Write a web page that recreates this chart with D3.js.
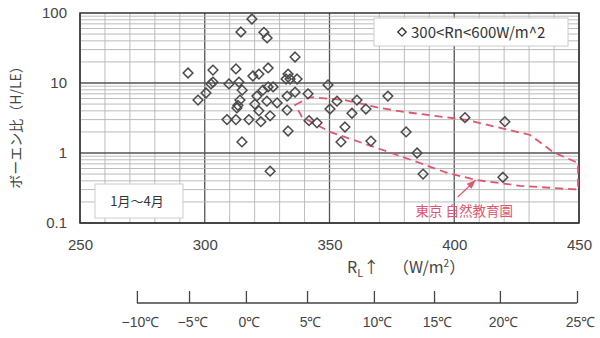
<!DOCTYPE html>
<html>
<head>
<meta charset="utf-8">
<script src="https://cdn.jsdelivr.net/npm/d3@7"></script>
<style>
  body { margin: 0; background: #fff; }
  svg { font-family: "Noto Sans CJK JP", "Noto Sans", sans-serif; }
  .ticks text { fill: #444; font-size: 15px; }
  .temp text { fill: #444; font-size: 14px; }
</style>
</head>
<body>
<script>
// meetpunten: RL (W/m2) en Bowen-verhouding
var rl = [293.3, 297.3, 300.5, 303.3, 302.5, 303.3, 309.7, 312.5, 313.7, 314.5,
          318.9, 323.7, 325.0, 325.4, 319.3, 321.7, 333.4, 334.2, 337.0, 336.2,
          349.4, 315.0, 323.3, 325.4, 327.4, 336.2, 341.4, 373.4, 353.0, 361.0,
          364.6, 350.2, 359.0, 314.1, 320.9, 324.9, 329.0, 333.0, 333.0, 312.9,
          320.1, 321.7, 326.2, 308.9, 312.5, 317.7, 322.5, 333.4, 314.9, 326.2,
          341.8, 345.0, 356.2, 354.6, 366.6, 404.3, 420.3, 380.7, 385.1, 387.5,
          419.5, 332.6, 313.3];
var bowen = [13.9, 5.7, 7.2, 15.3, 9.7, 10.3, 9.7, 15.9, 10.3, 53.5,
             82, 53, 44, 16.4, 12.6, 13.4, 13.4, 11.4, 11.4, 23.5,
             9.4, 7.9, 7.9, 8.8, 8.8, 7.4, 7.0, 6.5, 5.5, 5.7,
             4.25, 4.25, 3.7, 5.7, 6.5, 5.5, 5.2, 6.5, 4.1, 4.4,
             5.0, 4.0, 3.4, 3.0, 3.0, 3.0, 2.8, 2.06, 1.44, 0.55,
             2.9, 2.7, 2.35, 1.44, 1.48, 3.2, 2.8, 2.0, 1.0, 0.5,
             0.45, 11.4, 4.8];

// omtrek van het gebied "東京 自然教育園"
var regionRL = [336.2, 342.2, 356.2, 370.2, 380.3, 405.1, 430.4, 439.6, 449.6, 449.6,
                426.4, 409.1, 397.1, 386.3, 370.2, 350.2, 339.0];
var regionBowen = [4.85, 6.3, 5.7, 4.4, 3.85, 2.96, 1.81, 1.03, 0.72, 0.30,
                   0.34, 0.41, 0.52, 0.72, 1.14, 2.0, 3.27];

// as-labels
var xTicks = [250, 300, 350, 400, 450];
var yTicks = [0.1, 1, 10, 100];
var tempLabels = ["\u221210\u2103", "\u22125\u2103", "0\u2103", "5\u2103", "10\u2103", "15\u2103", "20\u2103", "25\u2103"];
var tempRL = [272.8, 293.7, 316.5, 341.0, 367.8, 391.9, 418.3, 449.2];

var width = 600, height = 338;
var plot = {left: 80, right: 579, top: 13, bottom: 223};

var svg = d3.select("body").append("svg")
    .attr("width", width)
    .attr("height", height);

var x = d3.scaleLinear().domain([250, 450]).range([plot.left, plot.right]);
var y = d3.scaleLog().domain([0.1, 100]).range([plot.bottom, plot.top]);

// verticale gridlijnen
var g = svg.append("g");
d3.range(250, 451, 10).forEach(function(v) {
  var major = v % 50 === 0;
  g.append("line")
      .attr("x1", x(v)).attr("x2", x(v))
      .attr("y1", plot.top).attr("y2", plot.bottom)
      .attr("stroke", major ? "#555" : "#b4b4b4")
      .attr("stroke-width", major ? 1.3 : 0.9);
});

// horizontale gridlijnen (log)
[0.1, 1, 10].forEach(function(dec) {
  d3.range(1, 10).forEach(function(k) {
    var v = dec * k;
    g.append("line")
        .attr("x1", plot.left).attr("x2", plot.right)
        .attr("y1", y(v)).attr("y2", y(v))
        .attr("stroke", k === 1 ? "#555" : "#b4b4b4")
        .attr("stroke-width", k === 1 ? 1.3 : 0.9);
  });
});

// kader
svg.append("rect")
    .attr("x", plot.left).attr("y", plot.top)
    .attr("width", plot.right - plot.left)
    .attr("height", plot.bottom - plot.top)
    .attr("fill", "none")
    .attr("stroke", "#333")
    .attr("stroke-width", 1.5);

// x as
var xAxis = svg.append("g")
    .attr("class", "ticks")
    .attr("transform", "translate(0," + (plot.bottom + 16) + ")")
    .call(d3.axisBottom(x).tickValues(xTicks).tickSize(0).tickPadding(0));
xAxis.select(".domain").remove();

// y as
var yAxis = svg.append("g")
    .attr("class", "ticks")
    .attr("transform", "translate(" + (plot.left - 13) + ",0)")
    .call(d3.axisLeft(y).tickValues(yTicks).tickSize(0).tickPadding(0)
      .tickFormat(function(d) { return d < 1 ? "0.1" : d3.format("d")(d); }));
yAxis.select(".domain").remove();

// gebied
var regionPts = regionRL.map(function(v, i) { return [x(v), y(regionBowen[i])]; });
svg.append("path")
    .attr("d", d3.line()(regionPts) + "Z")
    .attr("fill", "none")
    .attr("stroke", "#e0566e")
    .attr("stroke-width", 1.8)
    .attr("stroke-dasharray", "8,5");

// punten
var diamond = d3.symbol().type(d3.symbolDiamond2).size(60);
svg.append("g").selectAll("path")
    .data(rl)
  .enter().append("path")
    .attr("transform", function(d, i) { return "translate(" + x(d) + "," + y(bowen[i]) + ")"; })
    .attr("d", diamond)
    .attr("fill", "none")
    .attr("stroke", "#4a4a4a")
    .attr("stroke-width", 1.5);

// legenda
svg.append("rect")
    .attr("x", 374).attr("y", 18).attr("width", 194).attr("height", 28)
    .attr("fill", "#fff").attr("stroke", "#ccc");
svg.append("path")
    .attr("transform", "translate(402,32)")
    .attr("d", d3.symbol().type(d3.symbolDiamond2).size(45))
    .attr("fill", "none").attr("stroke", "#333").attr("stroke-width", 1.3);
svg.append("text")
    .attr("x", 411).attr("y", 37.5)
    .attr("font-size", "15px").attr("fill", "#333")
    .text("300<Rn<600W/m^2");

// periode
svg.append("rect")
    .attr("x", 95).attr("y", 184).attr("width", 88).attr("height", 34)
    .attr("fill", "#fff").attr("stroke", "#ccc");
svg.append("text")
    .attr("x", 137).attr("y", 206)
    .attr("text-anchor", "middle")
    .attr("font-size", "13px").attr("fill", "#333")
    .text("1月～4月");

// label en pijl van het gebied
svg.append("text")
    .attr("x", x(404)).attr("y", y(0.125))
    .attr("text-anchor", "middle")
    .attr("font-size", "13.5px").attr("fill", "#e0566e")
    .text("東京 自然教育園");
var ax1 = x(401.4), ay1 = y(0.235), ax2 = x(408.6), ay2 = y(0.41);
svg.append("line")
    .attr("x1", ax1).attr("y1", ay1).attr("x2", ax2).attr("y2", ay2)
    .attr("stroke", "#e0566e").attr("stroke-width", 1.3);
var ang = Math.atan2(ay2 - ay1, ax2 - ax1);
var hl = 9, hw = 3.5;
var bx = ax2 - hl * Math.cos(ang), by = ay2 - hl * Math.sin(ang);
svg.append("path")
    .attr("d", "M" + ax2 + "," + ay2 +
               "L" + (bx - hw * Math.sin(ang)) + "," + (by + hw * Math.cos(ang)) +
               "L" + (bx + hw * Math.sin(ang)) + "," + (by - hw * Math.cos(ang)) + "Z")
    .attr("fill", "#e0566e");

// x as titel
var xt = svg.append("text")
    .attr("x", 347).attr("y", 273)
    .attr("font-size", "16px").attr("fill", "#444");
xt.append("tspan").text("R");
xt.append("tspan").attr("dy", 4).attr("font-size", "11px").text("L");
xt.append("tspan").attr("dy", -4).text("↑");
xt.append("tspan").attr("x", 393).text("（W/m");
xt.append("tspan").attr("dy", -6).attr("font-size", "10px").text("2");
xt.append("tspan").attr("dy", 6).text("）");

// y as titel
svg.append("text")
    .attr("transform", "translate(21,124) rotate(-90)")
    .attr("text-anchor", "middle")
    .attr("font-size", "14px").attr("fill", "#444")
    .text("ボーエン比（H/LE）");

// temperatuur as
var tAxis = svg.append("g")
    .attr("class", "temp")
    .attr("transform", "translate(0,303)")
    .call(d3.axisBottom(x).tickValues(tempRL).tickSize(-12).tickPadding(14)
      .tickFormat(function(d, i) { return tempLabels[i]; }));
tAxis.select(".domain").remove();
tAxis.selectAll("line").attr("stroke", "#444").attr("stroke-width", 1.3);
tAxis.selectAll("text").attr("dx", 3);
svg.append("line")
    .attr("x1", x(tempRL[0])).attr("x2", x(tempRL[tempRL.length - 1]))
    .attr("y1", 303).attr("y2", 303)
    .attr("stroke", "#444").attr("stroke-width", 1.5);
</script>
</body>
</html>
